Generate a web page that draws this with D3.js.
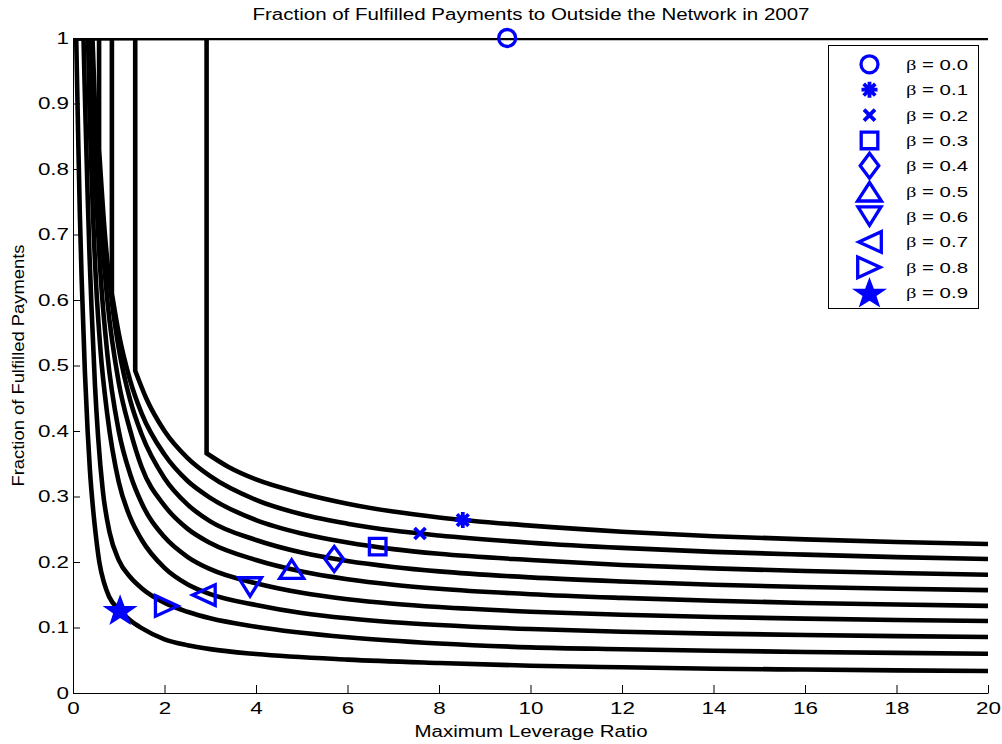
<!DOCTYPE html>
<html lang="en">
<head>
<meta charset="utf-8">
<title>Fraction of Fulfilled Payments</title>
<script src="https://cdnjs.cloudflare.com/ajax/libs/d3/7.8.5/d3.min.js"></script>
<style>
  html, body { margin: 0; padding: 0; background: #fff; }
  text { font-family: "Liberation Sans", Arial, sans-serif; }
</style>
</head>
<body>
<div id="chart"></div>
<script>
////////////////////////////////////////////////////////////////
// Data
////////////////////////////////////////////////////////////////

const betaLabels = ["0.0", "0.1", "0.2", "0.3", "0.4", "0.5", "0.6", "0.7", "0.8", "0.9"];
const markerKinds = ["circle", "asterisk", "times", "square", "diamond", "up", "down", "left", "right", "star"];

// where each marker sits
const markerX = [9.49, 8.52, 7.585, 6.66, 5.71, 4.78, 3.87, 2.85, 2.06, 1.03];
const markerY = [1.0, 0.264, 0.2435, 0.2234, 0.2046, 0.190, 0.161, 0.1496, 0.133, 0.1267];

// x where each curve leaves the value 1 (jump or smooth drop)
const jumpX = [20, 2.92, 1.36, 0.85, 0.57, 0.426, 0.397, 0.33, 0.23, 0.07];

// beta = 0.0 stays at 1
const beta00X = [0, 20];
const beta00Y = [1, 1];

const beta01X = [2.92, 3.4, 4, 5, 6, 7, 8, 10, 12, 14, 16, 18, 20];
const beta01Y = [0.366, 0.345, 0.326, 0.305, 0.289, 0.277, 0.268, 0.2555, 0.2462, 0.2394, 0.2345, 0.2306, 0.2275];

const beta02X = [1.36, 1.6, 2, 2.5, 3, 4, 5, 6, 7, 8, 10, 12, 14, 16, 18, 20];
const beta02Y = [0.492, 0.450, 0.400, 0.359, 0.331, 0.2948, 0.2728, 0.2585, 0.248, 0.2405, 0.2295, 0.2215, 0.2155, 0.2112, 0.2075, 0.2045];

const beta03X = [0.85, 1, 1.25, 1.5, 2, 2.5, 3, 4, 5, 6, 7, 8, 10, 12, 14, 16, 18, 20];
const beta03Y = [0.61, 0.549, 0.477, 0.427, 0.364, 0.324, 0.298, 0.264, 0.2435, 0.2297, 0.2197, 0.2125, 0.203, 0.1955, 0.1902, 0.1862, 0.1832, 0.1806];

const beta04X = [0.57, 0.7, 0.85, 1, 1.25, 1.5, 2, 2.5, 3, 4, 5, 6, 7, 8, 10, 12, 14, 16, 18, 20];
const beta04Y = [0.83, 0.698, 0.597, 0.526, 0.447, 0.395, 0.328, 0.288, 0.262, 0.2336, 0.2144, 0.2016, 0.1925, 0.1857, 0.1765, 0.1702, 0.1652, 0.1618, 0.1592, 0.157];

const beta05X = [0.426, 0.5, 0.6, 0.75, 1, 1.25, 1.5, 2, 2.5, 3, 4, 5, 6, 7, 8, 10, 12, 14, 16, 18, 20];
const beta05Y = [1, 0.859, 0.728, 0.600, 0.474, 0.401, 0.345, 0.286, 0.251, 0.229, 0.203, 0.1855, 0.1738, 0.1654, 0.1592, 0.1508, 0.1452, 0.1408, 0.1375, 0.135, 0.133];

const beta06X = [0.397, 0.45, 0.5, 0.6, 0.75, 1, 1.25, 1.5, 2, 2.5, 3, 4, 5, 6, 7, 8, 10, 12, 14, 16, 18, 20];
const beta06Y = [1, 0.867, 0.774, 0.642, 0.518, 0.400, 0.334, 0.290, 0.238, 0.208, 0.189, 0.1675, 0.1529, 0.1432, 0.1363, 0.1312, 0.1241, 0.1194, 0.116, 0.1135, 0.1115, 0.110];

const beta07X = [0.33, 0.35, 0.4, 0.5, 0.6, 0.75, 1, 1.25, 1.5, 2, 2.5, 3, 4, 5, 6, 7, 8, 10, 12, 14, 16, 18, 20];
const beta07Y = [1, 0.922, 0.802, 0.631, 0.524, 0.425, 0.322, 0.268, 0.234, 0.191, 0.166, 0.151, 0.1344, 0.1222, 0.114, 0.1081, 0.1038, 0.0976, 0.0936, 0.0907, 0.0885, 0.0868, 0.0855];

const beta08X = [0.23, 0.25, 0.28, 0.32, 0.36, 0.41, 0.48, 0.55, 0.65, 0.8, 1, 1.25, 1.5, 2.05, 2.5, 3, 4, 6, 8, 10, 12, 14, 16, 18, 20];
const beta08Y = [1, 0.94, 0.86, 0.76, 0.67, 0.58, 0.47, 0.39, 0.31, 0.245, 0.203, 0.177, 0.160, 0.136, 0.124, 0.114, 0.1012, 0.085, 0.0755, 0.0697, 0.0669, 0.0646, 0.0627, 0.0612, 0.060];

const beta09X = [0.07, 0.09, 0.116, 0.15, 0.19, 0.26, 0.32, 0.37, 0.44, 0.5, 0.575, 0.68, 0.79, 1.02, 1.25, 1.5, 2, 2.5, 3, 4, 6, 8, 10, 12, 14, 16, 18, 20];
const beta09Y = [1, 0.93, 0.84, 0.73, 0.63, 0.49, 0.40, 0.34, 0.28, 0.24, 0.20, 0.168, 0.147, 0.1267, 0.111, 0.099, 0.082, 0.073, 0.067, 0.0595, 0.051, 0.0458, 0.0417, 0.0392, 0.0371, 0.0358, 0.0346, 0.0336];

const curveXs = [beta00X, beta01X, beta02X, beta03X, beta04X, beta05X, beta06X, beta07X, beta08X, beta09X];
const curveYs = [beta00Y, beta01Y, beta02Y, beta03Y, beta04Y, beta05Y, beta06Y, beta07Y, beta08Y, beta09Y];

const xTickValues = [0, 2, 4, 6, 8, 10, 12, 14, 16, 18, 20];
const yTickValues = [0, 0.1, 0.2, 0.3, 0.4, 0.5, 0.6, 0.7, 0.8, 0.9, 1];
const yTickLabels = ["0", "0.1", "0.2", "0.3", "0.4", "0.5", "0.6", "0.7", "0.8", "0.9", "1"];

const titleText = "Fraction of Fulfilled Payments to Outside the Network in 2007";
const xLabelText = "Maximum Leverage Ratio";
const yLabelText = "Fraction of Fulfilled Payments";

////////////////////////////////////////////////////////////////
// Layout
////////////////////////////////////////////////////////////////

const W = 1002, H = 744;
const plot = {left: 73, right: 988, top: 38, bottom: 693};
const BLUE = "#0000ff";

const svg = d3.select("#chart").append("svg")
  .attr("width", W)
  .attr("height", H)
  .style("display", "block");

const x = d3.scaleLinear().domain([0, 20]).range([plot.left, plot.right]);
const y = d3.scaleLinear().domain([0, 1]).range([plot.bottom, plot.top]);

svg.append("defs").append("clipPath")
  .attr("id", "plot-clip")
  .append("rect")
  .attr("x", plot.left)
  .attr("y", plot.top)
  .attr("width", plot.right - plot.left)
  .attr("height", plot.bottom - plot.top);

////////////////////////////////////////////////////////////////
// Curves
////////////////////////////////////////////////////////////////

const straight = d3.line().x(d => x(d[0])).y(d => y(d[1]));
const smooth = d3.line().x(d => x(d[0])).y(d => y(d[1])).curve(d3.curveMonotoneX);

const curveLayer = svg.append("g").attr("clip-path", "url(#plot-clip)");

curveXs.forEach(function(xs, k) {
  const ys = curveYs[k];
  const pts = xs.map((v, i) => [v, ys[i]]);
  let d;
  if (k === 0) {
    d = straight(pts);
  } else {
    // flat at 1, then (maybe) a vertical drop, then the smooth tail
    const head = straight([[0, 1], [jumpX[k], 1], [xs[0], ys[0]]]);
    d = head + smooth(pts).replace(/^M/, "L");
  }
  curveLayer.append("path")
    .attr("d", d)
    .attr("fill", "none")
    .attr("stroke", "#000")
    .attr("stroke-width", 4.6)
    .attr("stroke-linejoin", "miter");
});

////////////////////////////////////////////////////////////////
// Axes
////////////////////////////////////////////////////////////////

const xAxis = d3.axisBottom(x)
  .tickValues(xTickValues)
  .tickSize(-8)
  .tickSizeOuter(0)
  .tickPadding(10)
  .tickFormat(d3.format("d"));

const yAxis = d3.axisLeft(y)
  .tickValues(yTickValues)
  .tickSize(-7)
  .tickSizeOuter(0)
  .tickPadding(4)
  .tickFormat((d, i) => yTickLabels[i]);

const gx = svg.append("g")
  .attr("transform", "translate(0," + plot.bottom + ")")
  .call(xAxis);
const gy = svg.append("g")
  .attr("transform", "translate(" + plot.left + ",0)")
  .call(yAxis);

[gx, gy].forEach(function(g) {
  g.attr("font-family", "Liberation Sans, Arial, sans-serif").attr("font-size", 16);
  g.selectAll("path, line").attr("stroke", "#000").attr("stroke-width", 1);
  g.selectAll("text").attr("fill", "#000");
});
// the picture's text is stretched sideways
gx.selectAll(".tick text").attr("transform", "scale(1.4,1)");
gy.selectAll(".tick text").attr("x", -4 / 1.4).attr("transform", "scale(1.4,1)");

////////////////////////////////////////////////////////////////
// Titles
////////////////////////////////////////////////////////////////

svg.append("text")
  .attr("x", 531).attr("y", 20)
  .attr("text-anchor", "middle")
  .attr("font-size", 16)
  .attr("textLength", 557)
  .attr("lengthAdjust", "spacingAndGlyphs")
  .text(titleText);

svg.append("text")
  .attr("x", 531).attr("y", 737)
  .attr("text-anchor", "middle")
  .attr("font-size", 16)
  .attr("textLength", 233)
  .attr("lengthAdjust", "spacingAndGlyphs")
  .text(xLabelText);

svg.append("text")
  .attr("transform", "translate(23.5," + ((plot.top + plot.bottom) / 2) + ") rotate(-90)")
  .attr("text-anchor", "middle")
  .attr("font-size", 16)
  .attr("textLength", 242)
  .attr("lengthAdjust", "spacingAndGlyphs")
  .text(yLabelText);

////////////////////////////////////////////////////////////////
// Markers
////////////////////////////////////////////////////////////////

function starPath(R, r) {
  const p = d3.path();
  for (let i = 0; i < 10; i++) {
    const a = -Math.PI / 2 + i * Math.PI / 5;
    const rad = i % 2 === 0 ? R : r;
    const px = rad * Math.cos(a), py = rad * Math.sin(a) * 0.92 + 1.2;
    if (i === 0) p.moveTo(px, py); else p.lineTo(px, py);
  }
  p.closePath();
  return p.toString();
}

const markerPaths = {
  circle: "M8.5,0A8.5,8.5 0 1,1 -8.5,0A8.5,8.5 0 1,1 8.5,0Z",
  asterisk: "M-8,0H8M0,-8V8M-5.8,-5.8L5.8,5.8M-5.8,5.8L5.8,-5.8",
  times: "M-5.5,-5.5L5.5,5.5M-5.5,5.5L5.5,-5.5",
  square: "M-8.3,-8.3H8.3V8.3H-8.3Z",
  diamond: "M0,-12.5L9.3,0L0,12.5L-9.3,0Z",
  up: "M0,-8.7L12,9.8H-12Z",
  down: "M0,8.7L11.5,-9.8H-11.5Z",
  left: "M-10.7,0L11.8,-10.3V10.3Z",
  right: "M10.7,0L-11.8,-10.3V10.3Z",
  star: starPath(16, 6.4)
};

function drawMarker(g, kind) {
  const filled = kind === "star";
  g.append("path")
    .attr("d", markerPaths[kind])
    .attr("fill", filled ? BLUE : "none")
    .attr("stroke", BLUE)
    .attr("stroke-width", kind === "asterisk" || kind === "times" ? 3.8 : (filled ? 1.5 : 3.3))
    .attr("stroke-linejoin", "miter")
    .attr("stroke-miterlimit", 10);
}

markerKinds.forEach(function(kind, i) {
  const g = svg.append("g")
    .attr("transform", "translate(" + x(markerX[i]) + "," + y(markerY[i]) + ")");
  drawMarker(g, kind);
});

////////////////////////////////////////////////////////////////
// Legend
////////////////////////////////////////////////////////////////

const legend = svg.append("g");
legend.append("rect")
  .attr("x", 828.5).attr("y", 45.5)
  .attr("width", 150).attr("height", 263)
  .attr("fill", "#fff")
  .attr("stroke", "#000")
  .attr("stroke-width", 1);

betaLabels.forEach(function(lab, i) {
  const cy = 64.3 + i * 25.38;
  const g = legend.append("g").attr("transform", "translate(869.5," + cy + ")");
  drawMarker(g, markerKinds[i]);
  const t = legend.append("text")
    .attr("x", 906).attr("y", cy + 5.5)
    .attr("font-size", 15.5)
    .attr("textLength", 62)
    .attr("lengthAdjust", "spacingAndGlyphs");
  t.append("tspan").attr("font-family", "Liberation Serif, serif").text("β");
  t.append("tspan").text(" = " + lab);
});
</script>
</body>
</html>
